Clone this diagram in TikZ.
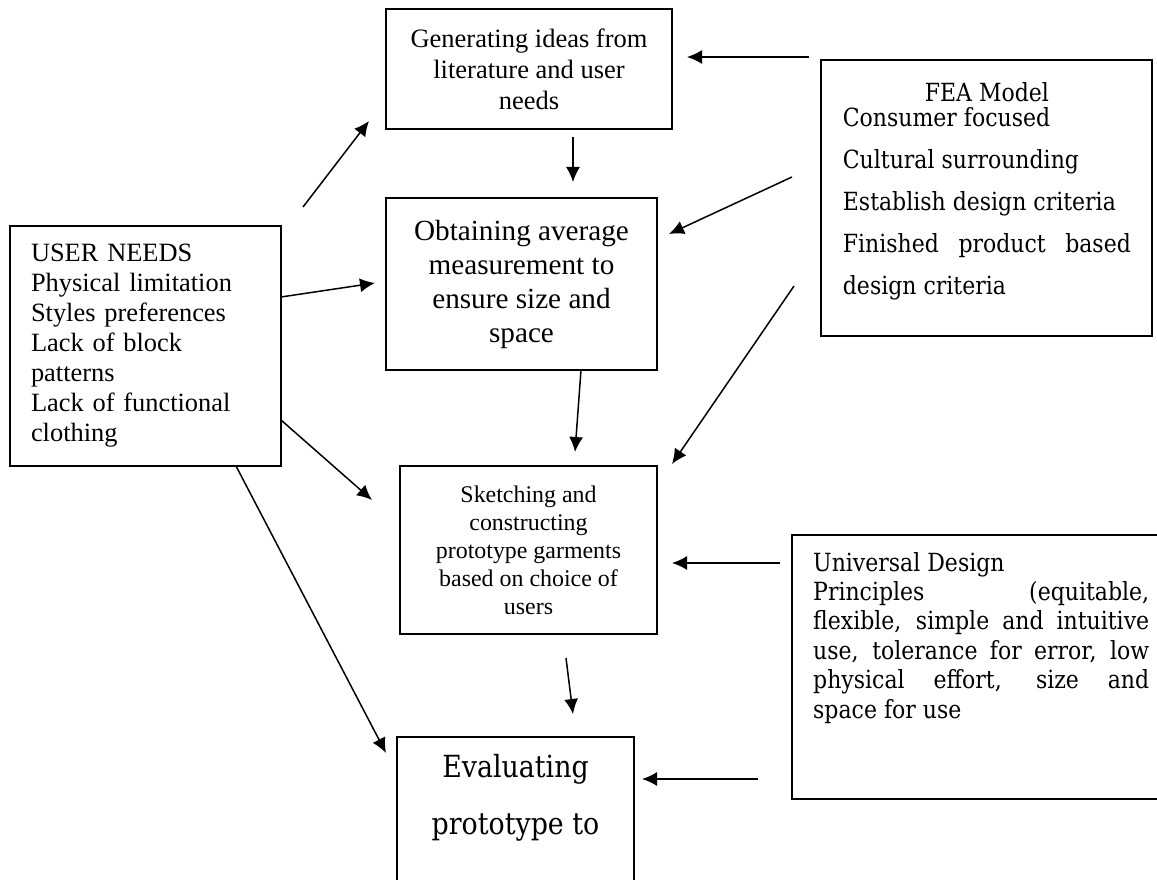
\documentclass[tikz,border=0pt]{standalone}
\usepackage{fontspec}
\setmainfont{Liberation Serif}
\newfontfamily\camb[FakeStretch=0.88]{DejaVu Serif}
\usetikzlibrary{arrows.meta}
\tikzset{
  box/.style={draw, line width=1.8pt, inner sep=0pt},
  txt/.style={inner sep=0pt},
  arr/.style={line width=1.5pt, -{Latex[length=15pt,width=14pt]}}
}
\begin{document}
\begin{tikzpicture}[x=1pt,y=-1pt]
\useasboundingbox (0,0) rectangle (1157,880);
\clip (0,0) rectangle (1157,880);
\fill[white] (0,0) rectangle (1157,880);

% boxes
\node[box, minimum width=286pt, minimum height=120pt, align=center,
  font=\fontsize{26.5}{31}\selectfont] (gen) at (529,69)
  {Generating ideas from\\literature and user\\needs};
\node[box, minimum width=271pt, minimum height=172pt, align=center,
  font=\fontsize{29.2}{34}\selectfont] (obt) at (521.5,284)
  {Obtaining average\\measurement to\\ensure size and\\space};
\node[box, minimum width=271pt, minimum height=240pt, text width=229pt, align=left,
  font=\fontsize{26.4}{30}\selectfont] (user) at (145.5,346)
  {USER NEEDS\\Physical limitation\\Styles preferences\\Lack of block\\patterns\\Lack of functional\\clothing};
\node[box, minimum width=257pt, minimum height=168pt, align=center,
  font=\fontsize{23.9}{28}\selectfont] (sketch) at (528.5,550)
  {Sketching and\\constructing\\prototype garments\\based on choice of\\users};
\node[box, minimum width=331pt, minimum height=276pt] (fea) at (986.5,198) {};
\node[box, minimum width=237pt, minimum height=203pt] (eval) at (515.5,838.5) {};
\node[box, minimum width=378pt, minimum height=264pt] (univ) at (981,667) {};

% texts in boxes
\node[txt, anchor=base west] (featext) at (842.7,102)
  {\parbox[t]{288pt}{\camb\fontsize{25}{42}\selectfont
   \makebox[288pt][c]{FEA Model}\par\vspace{-17pt}
   \makebox[288pt][l]{Consumer focused}\par
   \makebox[288pt][l]{Cultural surrounding}\par
   \makebox[288pt][l]{Establish design criteria}\par
   \makebox[288pt][s]{Finished product based}\par
   \makebox[288pt][l]{design criteria}}};
\node[txt, anchor=base] (evaltext) at (515.5,777)
  {\parbox[t]{237pt}{\centering\camb\fontsize{30.5}{57}\selectfont
   Evaluating\par prototype to}};
\node[txt, anchor=base west] (univtext) at (813,571)
  {\parbox[t]{336pt}{\camb\fontsize{25}{29.4}\selectfont
   \makebox[336pt][l]{Universal Design}\par
   \makebox[336pt][s]{Principles \hfill (equitable,}\par
   \makebox[336pt][s]{flexible, simple and intuitive}\par
   \makebox[336pt][s]{use, tolerance for error, low}\par
   \makebox[336pt][s]{physical effort, size and}\par
   \makebox[336pt][l]{space for use}}};

% connector end points
\coordinate (a1s) at (303,207);  \coordinate (a1e) at (369,121);
\coordinate (a2s) at (809,57);   \coordinate (a2e) at (687,57);
\coordinate (a3s) at (573,137);  \coordinate (a3e) at (573,182);
\coordinate (a4s) at (792,177);  \coordinate (a4e) at (669,234);
\coordinate (a5s) at (281,297);  \coordinate (a5e) at (375,283);
\coordinate (a6s) at (581,370);  \coordinate (a6e) at (575,452);
\coordinate (a7s) at (794,286);  \coordinate (a7e) at (672,464);
\coordinate (a8s) at (281,420);  \coordinate (a8e) at (372,500);
\coordinate (a9s) at (236,466);  \coordinate (a9e) at (386,753);
\coordinate (a10s) at (780,563); \coordinate (a10e) at (672,563);
\coordinate (a11s) at (566,658); \coordinate (a11e) at (573,714);
\coordinate (a12s) at (758,779); \coordinate (a12e) at (642,779);

\draw[arr] (a1s) -- (a1e);
\draw[arr] (a2s) -- (a2e);
\draw[arr] (a3s) -- (a3e);
\draw[arr] (a4s) -- (a4e);
\draw[arr] (a5s) -- (a5e);
\draw[arr] (a6s) -- (a6e);
\draw[arr] (a7s) -- (a7e);
\draw[arr] (a8s) -- (a8e);
\draw[arr] (a9s) -- (a9e);
\draw[arr] (a10s) -- (a10e);
\draw[arr] (a11s) -- (a11e);
\draw[arr] (a12s) -- (a12e);
\end{tikzpicture}
\end{document}
